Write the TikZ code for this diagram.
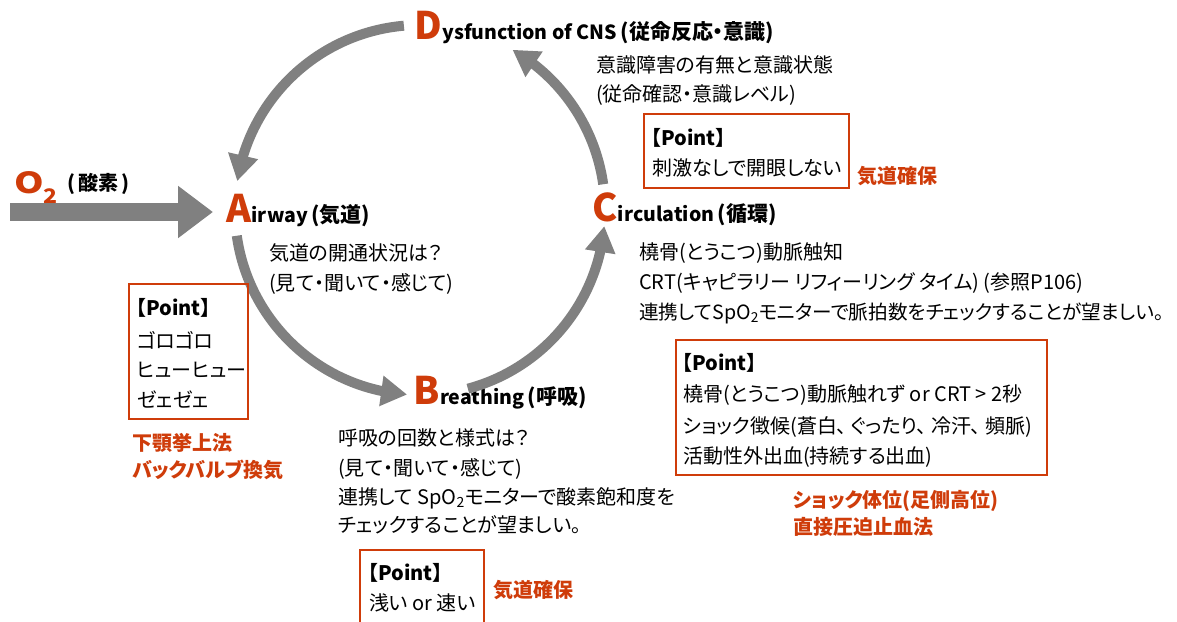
\documentclass[tikz,border=0pt]{standalone}
\usepackage{fontspec}
\setmainfont{Noto Sans CJK JP}[RawFeature=+palt]
\usetikzlibrary{arrows.meta,bending}
\definecolor{accent}{RGB}{207,60,10}
\definecolor{flowgray}{RGB}{128,128,128}
\newcommand{\nkg}{・}
\newcommand{\wcomma}{、\hspace{4pt}}
\newcommand{\lat}[1]{{\fontsize{19.5}{26}\selectfont #1}}
\tikzset{
  line/.style={anchor=west, inner sep=0pt, text height=17pt, text depth=3pt,
    font=\fontsize{20}{30}\selectfont},
  redline/.style={line, text=accent, font=\fontsize{20}{30}\selectfont\bfseries},
  ptitle/.style={line, font=\fontsize{20}{30}\selectfont\bfseries},
  bigletter/.style={anchor=base west, inner sep=0pt, text=accent,
    font=\fontsize{38}{40}\selectfont\bfseries},
  head/.style={anchor=base west, inner sep=0pt, font=\fontsize{21}{26}\selectfont\bfseries},
  pbox/.style={draw=accent, line width=1.6pt, inner sep=0pt},
  flow/.style={draw=flowgray, line width=10pt, -{Triangle[length=26pt,width=29pt]}},
}
\begin{document}
\begin{tikzpicture}[x=1pt,y=1pt]
\fill[white] (0,0) rectangle (1177,-621);
\useasboundingbox (0,0) rectangle (1177,-621);

% circle centre
\coordinate (o) at (420,-210);

% ---------- headings ----------
\node[bigletter] (Dl) at (414,-39) {D};
\node[head] (Dt) at (Dl.base east) {\lat{ysfunction of CNS}\,(従命反応\nkg 意識)};
\node[bigletter] (Al) at (226,-222) {A};
\node[head] (At) at (Al.base east) {\lat{irway}\,(気道)};
\node[bigletter] (Bl) at (413,-404) {B};
\node[head] (Bt) at (Bl.base east) {\lat{reathing}\,(呼吸)};
\node[bigletter] (Cl) at (592,-221) {C};
\node[head] (Ct) at (Cl.base east) {\lat{irculation}\,(循環)};

% ---------- O2 ----------
\node[anchor=base west, inner sep=0pt, text=accent, xscale=1.3, font=\fontsize{29}{32}\selectfont\bfseries] (O) at (14,-193) {O};
\node[anchor=base west, inner sep=0pt, text=accent, xscale=1.15, font=\fontsize{20}{22}\selectfont\bfseries] (O2) at (43,-203) {2};
\node[anchor=base west, inner sep=0pt, font=\fontsize{20}{22}\selectfont\bfseries] (O2t) at (67,-190) {(\,酸素\,)};
\coordinate (o2s) at (10,-212);
\coordinate (o2e) at (213,-212);
\draw[draw=flowgray, line width=18pt, -{Triangle[length=35pt,width=50pt]}] (o2s) -- (o2e);

% ---------- cycle arrows ----------
\coordinate (da) at ([shift={(95:185)}]o);
\coordinate (ab) at ([shift={(188:185)}]o);
\coordinate (bc) at ([shift={(285:185)}]o);
\coordinate (cd) at ([shift={(8:185)}]o);
\draw[flow] (da) arc[start angle=95, end angle=171, radius=185];
\draw[flow] (ab) arc[start angle=188, end angle=266, radius=185];
\draw[flow] (bc) arc[start angle=285, end angle=355, radius=185];
\draw[flow] (cd) arc[start angle=8, end angle=60, radius=185];

% ---------- D ----------
\node[line] (d1) at (596,-65) {意識障害の有無と意識状態};
\node[line] (d2) at (596,-94) {(従命確認\nkg 意識レベル)};
\node[pbox, anchor=north west, minimum width=205pt, minimum height=74pt] (p1) at (643,-113) {};
\node[ptitle] (p1a) at (651,-138) {【Point】};
\node[line] (p1b) at (652,-168) {刺激なしで開眼しない};
\node[redline] (r1) at (857,-176) {気道確保};

% ---------- C ----------
\node[line] (c1) at (639,-252) {橈骨(とうこつ)動脈触知};
\node[line] (c2) at (639,-282) {CRT(キャピラリー リフィーリング タイム) (参照P106)};
\node[line, font=\fontsize{19.6}{30}\selectfont] (c3) at (639,-312) {連携してSpO\textsubscript{2}モニターで脈拍数をチェックすることが望ましい。};
\node[pbox, anchor=north west, minimum width=371pt, minimum height=135pt] (p2) at (675,-339) {};
\node[ptitle] (p2a) at (682,-363) {【Point】};
\node[line] (p2b) at (683,-394) {橈骨(とうこつ)動脈触れず or CRT > 2秒};
\node[line] (p2c) at (683,-426) {ショック徴候(蒼白\wcomma ぐったり\wcomma 冷汗\wcomma 頻脈)};
\node[line] (p2d) at (683,-456) {活動性外出血(持続する出血)};
\node[redline] (r2a) at (793,-500) {ショック体位(足側高位)};
\node[redline] (r2b) at (793,-527) {直接圧迫止血法};

% ---------- A ----------
\node[line] (a1) at (269,-253) {気道の開通状況は？};
\node[line] (a2) at (269,-283) {(見て\nkg 聞いて\nkg 感じて)};
\node[pbox, anchor=north west, minimum width=119pt, minimum height=135pt] (p3) at (128,-283) {};
\node[ptitle] (p3a) at (136,-308) {【Point】};
\node[line] (p3b) at (137,-341) {ゴロゴロ};
\node[line] (p3c) at (137,-370) {ヒューヒュー};
\node[line] (p3d) at (137,-400) {ゼェゼェ};
\node[redline] (r3a) at (132,-443) {下顎挙上法};
\node[redline] (r3b) at (132,-470) {バックバルブ換気};

% ---------- B ----------
\node[line] (b1) at (338,-438) {呼吸の回数と様式は？};
\node[line] (b2) at (338,-468) {(見て\nkg 聞いて\nkg 感じて)};
\node[line] (b3) at (338,-497) {連携して SpO\textsubscript{2}モニターで酸素飽和度を};
\node[line] (b4) at (338,-525) {チェックすることが望ましい。};
\node[pbox, anchor=north west, minimum width=124pt, minimum height=80pt] (p4) at (359,-549) {};
\node[ptitle] (p4a) at (368,-573) {【Point】};
\node[line] (p4b) at (369,-603) {浅い or 速い};
\node[redline] (r4) at (493,-590) {気道確保};
\end{tikzpicture}
\end{document}
